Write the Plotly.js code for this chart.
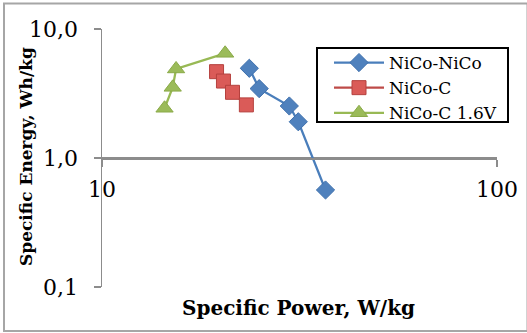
<!DOCTYPE html>
<html>
<head>
<meta charset="utf-8">
<script src="https://cdn.plot.ly/plotly-3.0.1.min.js"></script>
<style>html,body{margin:0;padding:0;background:#fff;}#chart{width:527px;height:333px;}</style>
</head>
<body>
<div id="chart"></div>
<script>
// Data
const nicoNicoPower  = [23.6, 25.0, 29.8, 31.4, 36.8];
const nicoNicoEnergy = [4.96, 3.45, 2.53, 1.91, 0.565];

const nicoCPower  = [19.5, 20.3, 21.4, 23.2];
const nicoCEnergy = [4.67, 3.95, 3.23, 2.58];

const nicoC16Power  = [14.4, 15.1, 15.4, 20.5];
const nicoC16Energy = [2.43, 3.53, 4.90, 6.48];

const seriesNames = ["NiCo-NiCo", "NiCo-C", "NiCo-C 1.6V"];
const yTickVals = [0.1, 1, 10];
const yTickText = ["0,1", "1,0", "10,0"];
const xTickVals = [10, 100];
const xTickText = ["10", "100"];

const serif = "DejaVu Serif";
const traces = [
  {x: nicoNicoPower, y: nicoNicoEnergy, name: seriesNames[0], legendgroup: "a", type: "scatter", mode: "lines+markers",
   line: {color: "#4A7EBB", width: 2.25},
   marker: {symbol: "diamond", size: 14, color: "#4F81BD", line: {color: "#3E70AD", width: 1}}},
  {x: nicoCPower, y: nicoCEnergy, name: seriesNames[1], legendgroup: "b", type: "scatter", mode: "lines+markers",
   line: {color: "#BE4B48", width: 2.25},
   marker: {symbol: "square", size: 14, color: "#DA5B58", line: {color: "#B5413E", width: 1}}},
  {x: nicoC16Power, y: nicoC16Energy, name: seriesNames[2], legendgroup: "c", type: "scatter", mode: "lines+markers",
   line: {color: "#98B954", width: 2.25},
   marker: {symbol: "triangle-up", size: 15, color: "#9BBB59", line: {color: "#8AAA48", width: 1}}}
];

const ml = 102, mr = 30, mt = 29, mb = 46, W = 527, H = 333;
const pw = W - ml - mr, ph = H - mt - mb;
const px = v => (v - ml) / pw;
const py = v => (H - mb - v) / ph;

const layout = {
  width: W, height: H,
  margin: {l: ml, r: mr, t: mt, b: mb, pad: 0},
  paper_bgcolor: "#ffffff", plot_bgcolor: "#ffffff",
  font: {family: serif, color: "#000000", size: 17},
  showlegend: true,
  legend: {x: px(329), y: py(45), xanchor: "left", yanchor: "top",
    borderwidth: 0, bgcolor: "rgba(0,0,0,0)",
    font: {family: serif, size: 17, color: "#000"}, itemwidth: 50,
    tracegroupgap: 3, traceorder: "normal"},
  xaxis: {type: "log", range: [1, 2], anchor: "free", position: 0.5,
    tickvals: xTickVals, ticktext: xTickText, showgrid: false, zeroline: false,
    showline: true, linecolor: "#8C8C8C", linewidth: 1.5,
    ticks: "outside", ticklen: 7, tickcolor: "#8C8C8C", tickwidth: 1.5,
    ticklabelstandoff: 4,
    tickfont: {family: serif, size: 22, color: "#000"}},
  yaxis: {type: "log", range: [-1, 1],
    tickvals: yTickVals, ticktext: yTickText,
    showgrid: true, gridcolor: "#8C8C8C", gridwidth: 1.5, zeroline: false,
    showline: true, linecolor: "#8C8C8C", linewidth: 1.5,
    ticks: "outside", ticklen: 7, tickcolor: "#8C8C8C", tickwidth: 1.5,
    ticklabelstandoff: 11,
    tickfont: {family: serif, size: 22, color: "#000"}},
  annotations: [
    {text: "<b>Specific Power, W/kg</b>", xref: "paper", yref: "paper",
     x: px(298), y: py(308), xanchor: "center", yanchor: "middle", showarrow: false,
     font: {family: serif, size: 20, color: "#000"}},
    {text: "<b>Specific Energy, Wh/kg</b>", xref: "paper", yref: "paper",
     x: px(26), y: py(157), xanchor: "center", yanchor: "middle", showarrow: false, textangle: -90,
     font: {family: serif, size: 17, color: "#000"}}
  ],
  shapes: [
    {type: "rect", xref: "paper", yref: "paper", x0: px(4), x1: px(527.5), y0: py(331), y1: py(3.5),
     line: {color: "#A6A6A6", width: 2}, fillcolor: "rgba(0,0,0,0)", layer: "below"},
    {type: "rect", xref: "paper", yref: "paper", x0: px(317), x1: px(508), y0: py(122), y1: py(48),
     line: {color: "#000000", width: 2}, fillcolor: "#ffffff", layer: "above"}
  ]
};

Plotly.newPlot("chart", traces, layout, {displayModeBar: false, staticPlot: true});
</script>
</body>
</html>
